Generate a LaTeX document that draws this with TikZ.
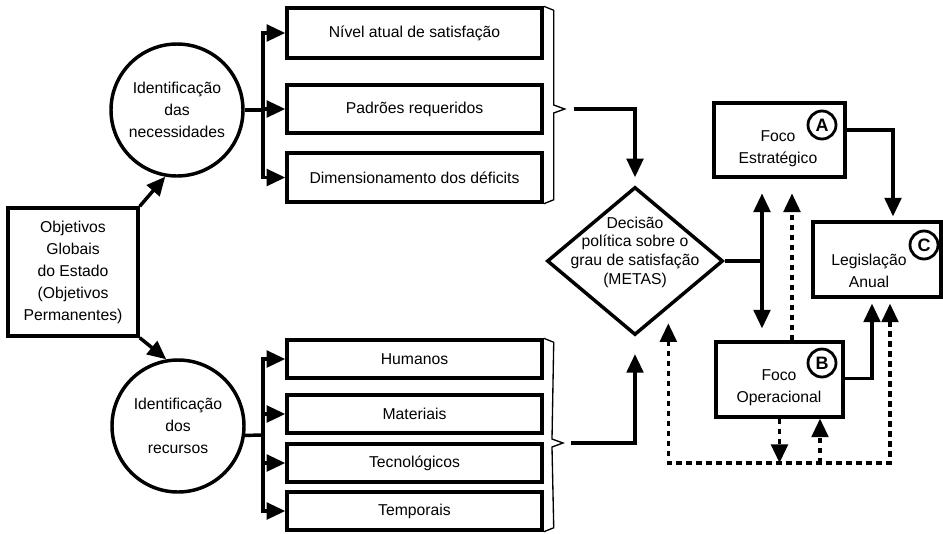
\documentclass[tikz,border=0pt]{standalone}
\usepackage{fontspec}
\setmainfont{Liberation Sans}
\usetikzlibrary{arrows.meta,shapes.geometric,calc}

\begin{document}
\begin{tikzpicture}[x=0.75pt,y=-0.75pt,
    every node/.style={font=\fontsize{11.8}{16.5}\selectfont},
    caixa/.style={draw,line width=2.6pt,rectangle,align=center,inner sep=0pt},
    bola/.style={draw,line width=2.6pt,circle,minimum size=99pt,align=center,inner sep=0pt},
    letra/.style={draw,line width=2.1pt,circle,minimum size=21pt,inner sep=0pt,font=\bfseries\fontsize{13.5}{13.5}\selectfont},
    linha/.style={line width=2.6pt},
    seta/.style={line width=2.6pt,-{Triangle[length=14pt,width=12.5pt]}},
    tracejado/.style={line width=2.6pt,dash pattern=on 4pt off 3.5pt},
    chave/.style={line width=1pt,line join=miter}]
  \useasboundingbox (0,0) rectangle (943,533);

  % objetivos e as duas identificacoes
  \node[caixa,minimum width=97.5pt,minimum height=96pt] (obj) at (73,272) {Objetivos\\Globais\\do Estado\\(Objetivos\\Permanentes)};
  \node[bola] (nec) at (177,110) {Identificação\\das\\necessidades};
  \node[bola] (rec) at (178,426) {Identificação\\dos\\recursos};
  \draw[seta] (obj.north east) -- (nec.-100);
  \draw[seta] (obj.south east) -- (rec.100);

  % necessidades
  \node[caixa,minimum width=191.25pt,minimum height=37.5pt] (niv) at (414.5,33) {Nível atual de satisfação};
  \node[caixa,minimum width=191.25pt,minimum height=36pt] (pad) at (414.5,109) {Padrões requeridos};
  \node[caixa,minimum width=191.25pt,minimum height=36.75pt] (dim) at (414.5,177.5) {Dimensionamento dos déficits};
  \coordinate (nbus) at (263,110);
  \draw[linha] (nec.east) -- (nbus);
  \foreach \b in {niv,pad,dim}
    \draw[seta] (nbus) |- (\b.west);
  \draw[chave] (niv.north east) -- ++(10,4) -- ($(pad.east)+(10,-4)$) -- ($(pad.east)+(21,0)$)
    -- ($(pad.east)+(10,4)$) -- ($(dim.south east)+(10,-4)$) -- (dim.south east);

  % recursos
  \node[caixa,minimum width=191.25pt,minimum height=28.5pt] (hum) at (414.5,359) {Humanos};
  \node[caixa,minimum width=191.25pt,minimum height=28.5pt] (mat) at (414.5,414) {Materiais};
  \node[caixa,minimum width=191.25pt,minimum height=28.5pt] (tec) at (414.5,463) {Tecnológicos};
  \node[caixa,minimum width=191.25pt,minimum height=28.5pt] (tem) at (414.5,511) {Temporais};
  \coordinate (rbus) at (263,435);
  \draw[linha] (rec.-8) -- (rbus);
  \foreach \b in {hum,mat,tec,tem}
    \draw[seta] (rbus) |- (\b.west);
  \coordinate (rtip) at (563,443);
  \draw[chave] (hum.north east) -- ++(10,4) -- ($(rtip)+(-11,-4)$) -- (rtip)
    -- ($(rtip)+(-11,4)$) -- ($(tem.south east)+(10,-4)$) -- (tem.south east);

  % decisao
  \node[draw,line width=2.6pt,diamond,minimum width=132pt,minimum height=111pt,inner sep=0pt] (dec) at (635,261) {};
  \node[align=center,font=\fontsize{11.8}{14}\selectfont] (dectxt) at (635,252) {Decisão\\política sobre o\\grau de satisfação\\(METAS)};
  \coordinate (nfim) at ($(pad.east)+(30,0)$);
  \coordinate (rfim) at (571,443);
  \draw[seta,shorten >=6pt] (nfim) -| (dec.north);
  \draw[seta,shorten >=13pt] (rfim) -| (dec.south);

  % focos e legislacao
  \node[caixa,minimum width=98pt,minimum height=55.5pt] (est) at (779.5,140) {};
  \node[align=center] (esttxt) at (778,149) {Foco\\Estratégico};
  \node[letra] (a) at (822,125) {A};
  \node[caixa,minimum width=96pt,minimum height=56pt] (leg) at (877,259.5) {};
  \node[align=center] (legtxt) at (869,271) {Legislação\\Anual};
  \node[letra] (c) at (924,245) {C};
  \node[caixa,minimum width=95pt,minimum height=56pt] (ope) at (779.5,379.5) {};
  \node[align=center] (opetxt) at (779,388) {Foco\\Operacional};
  \node[letra] (b) at (822,363) {B};

  \coordinate (djun) at (762,261);
  \draw[linha] (dec.east) -- (djun);
  \draw[seta,shorten >=11pt] (djun) -- (djun |- est.south);
  \draw[seta,shorten >=9pt] (djun) -- (djun |- ope.north);
  \draw[tracejado,seta,shorten >=11pt] ($(ope.north)+(12.5,0)$) -- ($(est.south)+(12.5,0)$);
  \draw[seta,shorten >=3pt] ($(est.east)+(0,-10)$) -| ($(leg.north)+(16,0)$);
  \draw[seta,shorten >=3.75pt] ($(ope.east)+(0,-1)$) -| ($(leg.south)+(-5,0)$);

  % retorno tracejado
  \coordinate (fundo) at (800,463);
  \coordinate (fb) at (ope.south |- fundo);
  \draw[tracejado,{Triangle[length=14pt,width=12.5pt]}-{Triangle[length=14pt,width=12.5pt]},shorten <=11pt,shorten >=3.75pt]
    (dec.-55) |- (fundo) -| ($(leg.south)+(13,0)$);
  \draw[tracejado,seta] (ope.south) -- (fb);
  \draw[tracejado,seta] ($(fb)+(40.5,0)$) -- ($(ope.south)+(40.5,0)$);
\end{tikzpicture}
\end{document}
